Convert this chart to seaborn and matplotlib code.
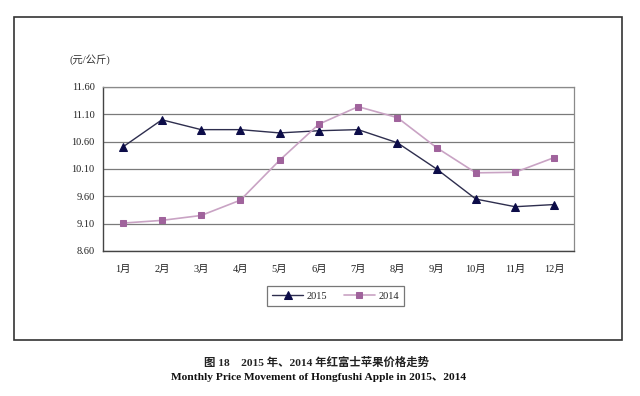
import matplotlib
matplotlib.use("Agg")
import matplotlib.pyplot as plt
import seaborn as sns
import pandas as pd
from matplotlib.patches import Rectangle

months = ["1月", "2月", "3月", "4月", "5月", "6月", "7月", "8月", "9月", "10月", "11月", "12月"]
price_2015 = [10.50, 11.00, 10.82, 10.82, 10.76, 10.80, 10.82, 10.58, 10.10, 9.55, 9.41, 9.45]
price_2014 = [9.11, 9.16, 9.25, 9.53, 10.26, 10.92, 11.24, 11.04, 10.49, 10.03, 10.04, 10.31]
y_ticks = [8.60, 9.10, 9.60, 10.10, 10.60, 11.10, 11.60]
series_names = ["2015", "2014"]

sns.set_theme(style="white")
plt.rcParams['font.family'] = ['Liberation Serif', 'Noto Sans CJK SC', 'DejaVu Sans']

df = pd.DataFrame({
    "month": months * 2,
    "price": price_2015 + price_2014,
    "year": [series_names[0]] * 12 + [series_names[1]] * 12,
})

fig = plt.figure(figsize=(6.4, 3.96), dpi=100)
ax = fig.add_axes([103/640, 1 - 251/396, (574-103)/640, (251-87)/396])

sns.lineplot(data=df[df.year == "2015"], x="month", y="price", ax=ax,
             color="#2e2e4e", lw=1.0, marker="^", markersize=5.5,
             markerfacecolor="#0c0c48", markeredgecolor="#0c0c48",
             label="2015", sort=False)
sns.lineplot(data=df[df.year == "2014"], x="month", y="price", ax=ax,
             color="#c9a3c4", lw=1.2, marker="s", markersize=5,
             markerfacecolor="#a0639c", markeredgecolor="#a0639c",
             label="2014", sort=False)

ax.set_xlim(-0.5, 11.5)
ax.set_ylim(8.60, 11.60)
ax.set_yticks(y_ticks)
ax.set_yticklabels([f"{v:.2f}" for v in y_ticks], fontsize=7.5, color="#222222")
ax.set_xticks(range(12))
ax.set_xticklabels(months, fontsize=7.5, color="#222222")
ax.set_xticks([i + 0.5 for i in range(11)], minor=True)
ax.tick_params(axis="x", which="major", length=0, pad=10)
ax.tick_params(axis="x", which="minor", length=3, direction="in", color="#555555", width=0.8)
ax.tick_params(axis="y", which="major", length=0, pad=6)
ax.set_xlabel("")
ax.set_ylabel("")
ax.grid(axis="y", color="#7a7a7a", lw=0.9)
ax.set_axisbelow(True)
for side in ["top", "right"]:
    ax.spines[side].set_color("#8a8a8a")
    ax.spines[side].set_linewidth(0.9)
for side in ["left", "bottom"]:
    ax.spines[side].set_color("#444444")
    ax.spines[side].set_linewidth(1.0)

leg = ax.legend(loc="center", bbox_to_anchor=(335.5/640, 1 - 296/396),
                bbox_transform=fig.transFigure, ncol=2, frameon=True,
                fancybox=False, fontsize=7.5, edgecolor="#555555",
                handlelength=3.0, columnspacing=1.6, borderpad=0.5,
                handletextpad=0.3)
leg.get_frame().set_linewidth(0.9)

fig.text(90/640, 1 - 60/396, "(元/公斤)", fontsize=7.5, ha="center", va="center",
         color="#333333")

frame = Rectangle((14/640, 1 - 340/396), (622-14)/640, (340-17)/396,
                  transform=fig.transFigure, fill=False, edgecolor="#333333",
                  lw=1.2)
fig.patches.append(frame)

fig.text(317/640, 1 - 362/396, "图 18　2015 年、2014 年红富士苹果价格走势",
         fontsize=8.2, ha="center", va="center", fontweight="bold", color="#222222")
fig.text(319/640, 1 - 377/396, "Monthly Price Movement of Hongfushi Apple in 2015、2014",
         fontsize=8.2, ha="center", va="center", fontweight="bold", color="#111111")

fig.savefig("out.png", dpi=100, facecolor="white")
